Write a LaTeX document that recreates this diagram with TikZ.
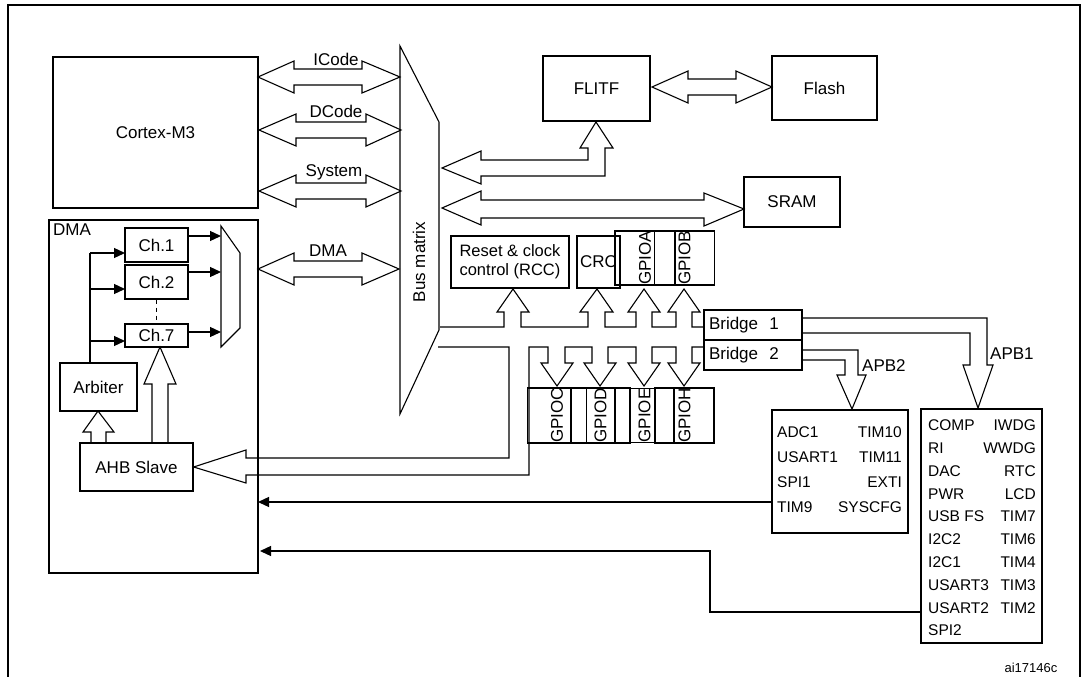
\documentclass[tikz,border=0pt]{standalone}
\usepackage{fontspec}
\setmainfont{Liberation Sans}
\usetikzlibrary{arrows.meta}
\begin{document}
\begin{tikzpicture}[x=1pt,y=-1pt,
  thin/.style={line width=1.1pt},
  box/.style={draw,line width=1.3pt,inner sep=0pt},
  tbox/.style={draw,line width=2.6pt,inner sep=0pt},
  lbl/.style={font=\fontsize{17}{19}\selectfont},
  small/.style={font=\fontsize{15.5}{17}\selectfont,inner sep=0pt},
  hol/.style={line width=1.1pt,line join=miter},
  blk/.style={line width=1.3pt,-{Triangle[length=11pt,width=10pt]}}]
\useasboundingbox (0,0) rectangle (1087,677);
\clip (0,0) rectangle (1087,677);
\draw[line width=1.6pt] (8,700)--(8,5)--(1080,5)--(1080,700);
% boxes
\node[tbox,minimum width=205pt,minimum height=151pt,lbl] (cpu) at (155.5,132.5) {Cortex-M3};
\node[tbox,minimum width=209pt,minimum height=353pt] (dma) at (153.5,396.5) {};
\node[lbl,anchor=north west,inner sep=0pt] (dmal) at (53,224) {DMA};
\node[box,minimum width=63pt,minimum height=34pt,lbl] (ch1) at (156.5,245) {Ch.1};
\node[box,minimum width=63pt,minimum height=34pt,lbl] (ch2) at (156.5,282) {Ch.2};
\node[box,minimum width=63pt,minimum height=23pt,lbl] (ch7) at (156.5,335.5) {Ch.7};
\draw[thin,dash pattern=on 4pt off 4pt] (ch2.south)--(ch7.north);
\draw[thin] (221,226)--(240,253)--(240,328)--(221,347)--cycle;
\coordinate (m1) at (221,236); \coordinate (m2) at (221,272); \coordinate (m3) at (221,332);
\draw[blk] (ch1.east|-m1)--(m1);
\draw[blk] (ch2.east|-m2)--(m2);
\draw[blk] (ch7.east|-m3)--(m3);
\node[box,minimum width=77pt,minimum height=48pt,lbl] (arb) at (98.5,387) {Arbiter};
\node[box,minimum width=113pt,minimum height=48pt,lbl] (ahb) at (136.5,467) {AHB Slave};
\coordinate (a1) at (125,253); \coordinate (a2) at (125,289); \coordinate (a3) at (125,341);
\draw[thin] (90,363)--(90,253);
\draw[blk] (90,253)--(a1);
\draw[blk] (90,289)--(a2);
\draw[blk] (90,341)--(a3);
\draw[hol] (91,443)--(91,432)--(83,432)--(98,411)--(114,432)--(106,432)--(106,443);
\draw[hol] (152,443)--(152,384)--(144,384)--(160,347)--(176,384)--(168,384)--(168,443);
% bus matrix
\draw[thin] (400,46)--(439,122)--(439,330)--(400,414)--cycle;
\node[lbl,rotate=90] (bm) at (419,262) {Bus matrix};
% double arrows
\newcommand\hdbl[5]{\draw[hol] (#1,#3)--(#4,#3-16)--(#4,#3-8)--(#5,#3-8)--(#5,#3-16)--(#2,#3)--(#5,#3+16)--(#5,#3+8)--(#4,#3+8)--(#4,#3+16)--cycle;}
\hdbl{258}{400}{77}{294}{362}
\hdbl{259}{401}{130}{296}{366}
\hdbl{259}{401}{191}{296}{366}
\hdbl{258}{399}{269}{294}{362}
\node[lbl,inner sep=0pt,fill=white] (ic) at (336,59) {ICode};
\node[lbl,inner sep=0pt,fill=white] (dc) at (336,111) {DCode};
\node[lbl,inner sep=0pt,fill=white] (sy) at (334,172) {System};
\node[lbl,inner sep=0pt] (dm) at (328,251) {DMA};
% memories
\node[box,minimum width=107pt,minimum height=65pt,lbl] (flitf) at (596.5,88.5) {FLITF};
\node[box,minimum width=105pt,minimum height=64pt,lbl] (flash) at (824.5,88) {Flash};
\node[box,minimum width=96pt,minimum height=50pt,lbl] (sram) at (792,202) {SRAM};
\hdbl{652}{772}{87}{688}{736}
\draw[hol] (442,168)--(481,151)--(481,160)--(588,160)--(588,148)--(580,148)--(596,122)--(613,148)--(605,148)--(605,176)--(481,176)--(481,184)--cycle;
\draw[hol] (442,208)--(481,191)--(481,200)--(704,200)--(704,193)--(744,209)--(704,226)--(704,218)--(481,218)--(481,225)--cycle;
% peripherals
\node[box,minimum width=118pt,minimum height=52pt,align=left,font=\fontsize{16.5}{19}\selectfont] (rcc) at (510,262) {Reset \& clock\\control (RCC)};
\node[box,minimum width=43pt,minimum height=52pt,lbl] (crc) at (598.5,262) {CRC};
\node[box,minimum width=26pt,minimum height=60pt,rotate=90,lbl] (ga) at (645,258) {GPIOA};
\node[box,minimum width=25pt,minimum height=60pt,rotate=90,lbl] (gb) at (684.5,258) {GPIOB};
\node[box,minimum width=24pt,minimum height=59pt,rotate=90,lbl] (gc) at (557,415.5) {GPIOC};
\node[box,minimum width=25pt,minimum height=59pt,rotate=90,lbl] (gd) at (600.5,415.5) {GPIOD};
\node[box,minimum width=25pt,minimum height=59pt,rotate=90,lbl] (ge) at (644.5,415.5) {GPIOE};
\node[box,minimum width=25pt,minimum height=59pt,rotate=90,lbl] (gh) at (684.5,415.5) {GPIOH};
\node[box,minimum width=98pt,minimum height=30pt,lbl,text width=88pt] (br1) at (753,325) {Bridge\ \ 1};
\node[box,minimum width=98pt,minimum height=30pt,lbl,text width=88pt] (br2) at (753,355) {Bridge\ \ 2};
% buses
\draw[hol] (440,327)--(504,327)--(504,312)--(497,312)--(513,289)--(529,312)--(521,312)--(521,327)--(588,327)--(588,312)--(580,312)--(597,289)--(613,312)--(605,312)--(605,327)--(636,327)--(636,312)--(628,312)--(644,289)--(660,312)--(652,312)--(652,327)--(676,327)--(676,312)--(668,312)--(684,289)--(700,312)--(692,312)--(692,327)--(br1.west|-0,327);
\draw[hol] (438,347)--(509,347)--(509,458)--(246,458)--(246,450)--(ahb.east|-0,467)--(246,483)--(246,475)--(529,475)--(529,347)--(548,347)--(548,363)--(541,363)--(557,386)--(573,363)--(565,363)--(565,347)--(592,347)--(592,363)--(584,363)--(600,386)--(616,363)--(608,363)--(608,347)--(636,347)--(636,363)--(628,363)--(644,386)--(660,363)--(652,363)--(652,347)--(676,347)--(676,363)--(668,363)--(684,386)--(700,363)--(692,363)--(692,347)--(br2.west|-0,347);
\draw[hol] (br1.east|-0,318)--(987,318)--(987,365)--(993,365)--(978,408)--(963,365)--(970,365)--(970,333)--(br1.east|-0,333);
\draw[hol] (br2.east|-0,350)--(858,350)--(858,375)--(866,375)--(852,409)--(837,375)--(845,375)--(845,360)--(br2.east|-0,360);
\node[lbl,anchor=west,inner sep=0pt] (apb1) at (990,354) {APB1};
\node[lbl,anchor=west,inner sep=0pt] (apb2) at (862,366) {APB2};
% APB boxes
\node[tbox,minimum width=136pt,minimum height=123pt] (p2) at (840,471.5) {};
\node[tbox,minimum width=121pt,minimum height=234pt] (p1) at (981.5,526) {};
\foreach \l/\r [count=\i] in {ADC1/TIM10,USART1/TIM11,SPI1/EXTI,TIM9/SYSCFG}{
  \node[small,anchor=west] (p2l\i) at (777,{407+25*\i}) {\l};
  \node[small,anchor=east] (p2r\i) at (902,{407+25*\i}) {\r};}
\foreach \l/\r [count=\i] in {COMP/IWDG,RI/WWDG,DAC/RTC,PWR/LCD,USB FS/TIM7,I2C2/TIM6,I2C1/TIM4,USART3/TIM3,USART2/TIM2,SPI2/}{
  \node[small,anchor=west] (p1l\i) at (928,{402.5+22.8*\i}) {\l};
  \node[small,anchor=east] (p1r\i) at (1036,{402.5+22.8*\i}) {\r};}
% black return arrows
\coordinate (t1) at (258,502);
\coordinate (t2) at (260,551);
\draw[blk] (p2.west|-t1)--(t1);
\draw[blk] (p1.west|-0,612)--(710,612)--(710,551)--(t2);
\node[font=\fontsize{13}{15}\selectfont,inner sep=0pt] (ai) at (1031,668) {ai17146c};
\end{tikzpicture}
\end{document}
